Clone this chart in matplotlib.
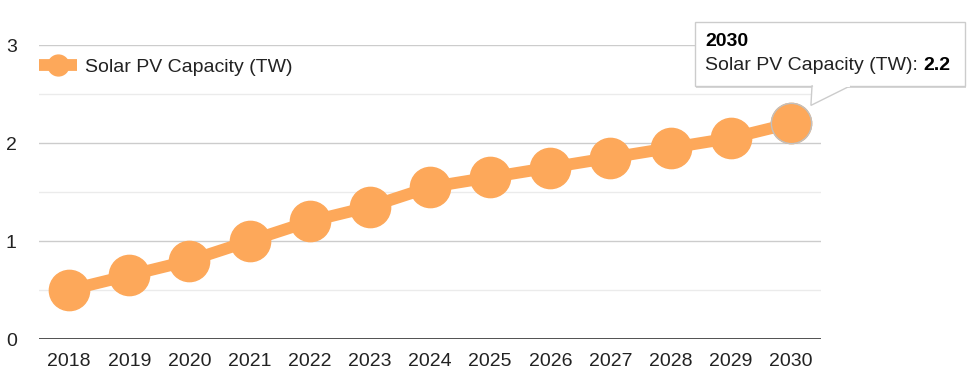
import matplotlib.pyplot as plt
from matplotlib.patches import FancyBboxPatch, Polygon
from matplotlib.lines import Line2D

plt.rcParams["font.family"] = ["Liberation Sans", "DejaVu Sans"]

# ---------- DATA ----------
years = ["2018", "2019", "2020", "2021", "2022", "2023", "2024",
         "2025", "2026", "2027", "2028", "2029", "2030"]
capacity_tw = [0.5, 0.65, 0.8, 1.0, 1.2, 1.35, 1.55, 1.65, 1.75, 1.85, 1.95, 2.05, 2.2]
series_name = "Solar PV Capacity (TW)"
y_ticks = [0, 1, 2, 3]

COLOR = "#fda85a"
W, H = 967, 378
FS = 14

fig = plt.figure(figsize=(W / 100, H / 100), dpi=100)
ax = fig.add_axes([39 / W, 1 - 339 / H, (821 - 39) / W, (339 - 45) / H])

x = list(range(len(years)))
ax.plot(x, capacity_tw, color=COLOR, lw=8.5, marker="o", ms=29,
        solid_capstyle="butt", zorder=3, clip_on=False)
# highlighted (hovered) last point
ax.plot(x[-1:], capacity_tw[-1:], ls="none", marker="o", ms=29, mfc=COLOR,
        mec="#c0c0c0", mew=1, zorder=4, clip_on=False)

ax.set_xlim(-0.5, len(years) - 0.5)
ax.set_ylim(0, 3)

# gridlines: major + lighter minor
for v in [0.5, 1.5, 2.5]:
    ax.axhline(v, color="#ebebeb", lw=1, zorder=1)
for v in [1, 2, 3]:
    ax.axhline(v, color="#cccccc", lw=1, zorder=1)
ax.axhline(0, color="#333333", lw=1.2, zorder=2)

for s in ax.spines.values():
    s.set_visible(False)
ax.tick_params(length=0, labelsize=FS, colors="#222222")
ax.set_xticks(x)
ax.set_xticklabels(years)
ax.tick_params(axis="x", pad=10)
ax.set_yticks(y_ticks)
ax.set_yticklabels([str(t) for t in y_ticks])
for lbl in ax.get_yticklabels():
    lbl.set_horizontalalignment("center")
ax.tick_params(axis="y", pad=20)

# legend
leg_handle = Line2D([], [], color=COLOR, lw=8.5, marker="o", ms=15,
                    solid_capstyle="butt")
ax.legend([leg_handle], [series_name], loc="center left", bbox_to_anchor=(0.0, 0.925),
          frameon=False, fontsize=FS, handlelength=1.95, handletextpad=0.42,
          borderaxespad=0, borderpad=0, labelcolor="#222222")

# tooltip for last point
fig.canvas.draw()
px, py = ax.transData.transform((x[-1], capacity_tw[-1]))
bx0, bx1, by0, by1 = 695, 965, H - 86, H - 22
shadow = FancyBboxPatch((bx0 + 1, by0 - 2), bx1 - bx0, by1 - by0,
                        boxstyle="square,pad=0", transform=None,
                        fc="#d8d8d8", ec="none", zorder=9)
box = FancyBboxPatch((bx0, by0), bx1 - bx0, by1 - by0,
                     boxstyle="square,pad=0", transform=None,
                     fc="white", ec="#cccccc", lw=1, zorder=10)
fig.patches.extend([shadow, box])
tail = Polygon([(812, by0), (850, by0), (px + 20, py + 18)], closed=True,
               transform=None, fc="white", ec="#cccccc", lw=1, zorder=11)
fig.patches.append(tail)
cover = Polygon([(813, by0 + 0.8), (849, by0 + 0.8), (831, by0 + 0.8)],
                closed=True, transform=None, fc="white", ec="white", lw=2, zorder=12)
fig.patches.append(cover)

fig.text(705 / W, 1 - 41 / H, years[-1], fontsize=FS, fontweight="bold",
         color="black", va="center", ha="left", zorder=13)
t1 = fig.text(705 / W, 1 - 66 / H, f"{series_name}: ", fontsize=FS,
              color="#222222", va="center", ha="left", zorder=13)
fig.canvas.draw()
bb = t1.get_window_extent()
fig.text(bb.x1 / W, 1 - 66 / H, f"{capacity_tw[-1]}", fontsize=FS,
         fontweight="bold", color="black", va="center", ha="left", zorder=13)

fig.savefig("out.png", dpi=100)
